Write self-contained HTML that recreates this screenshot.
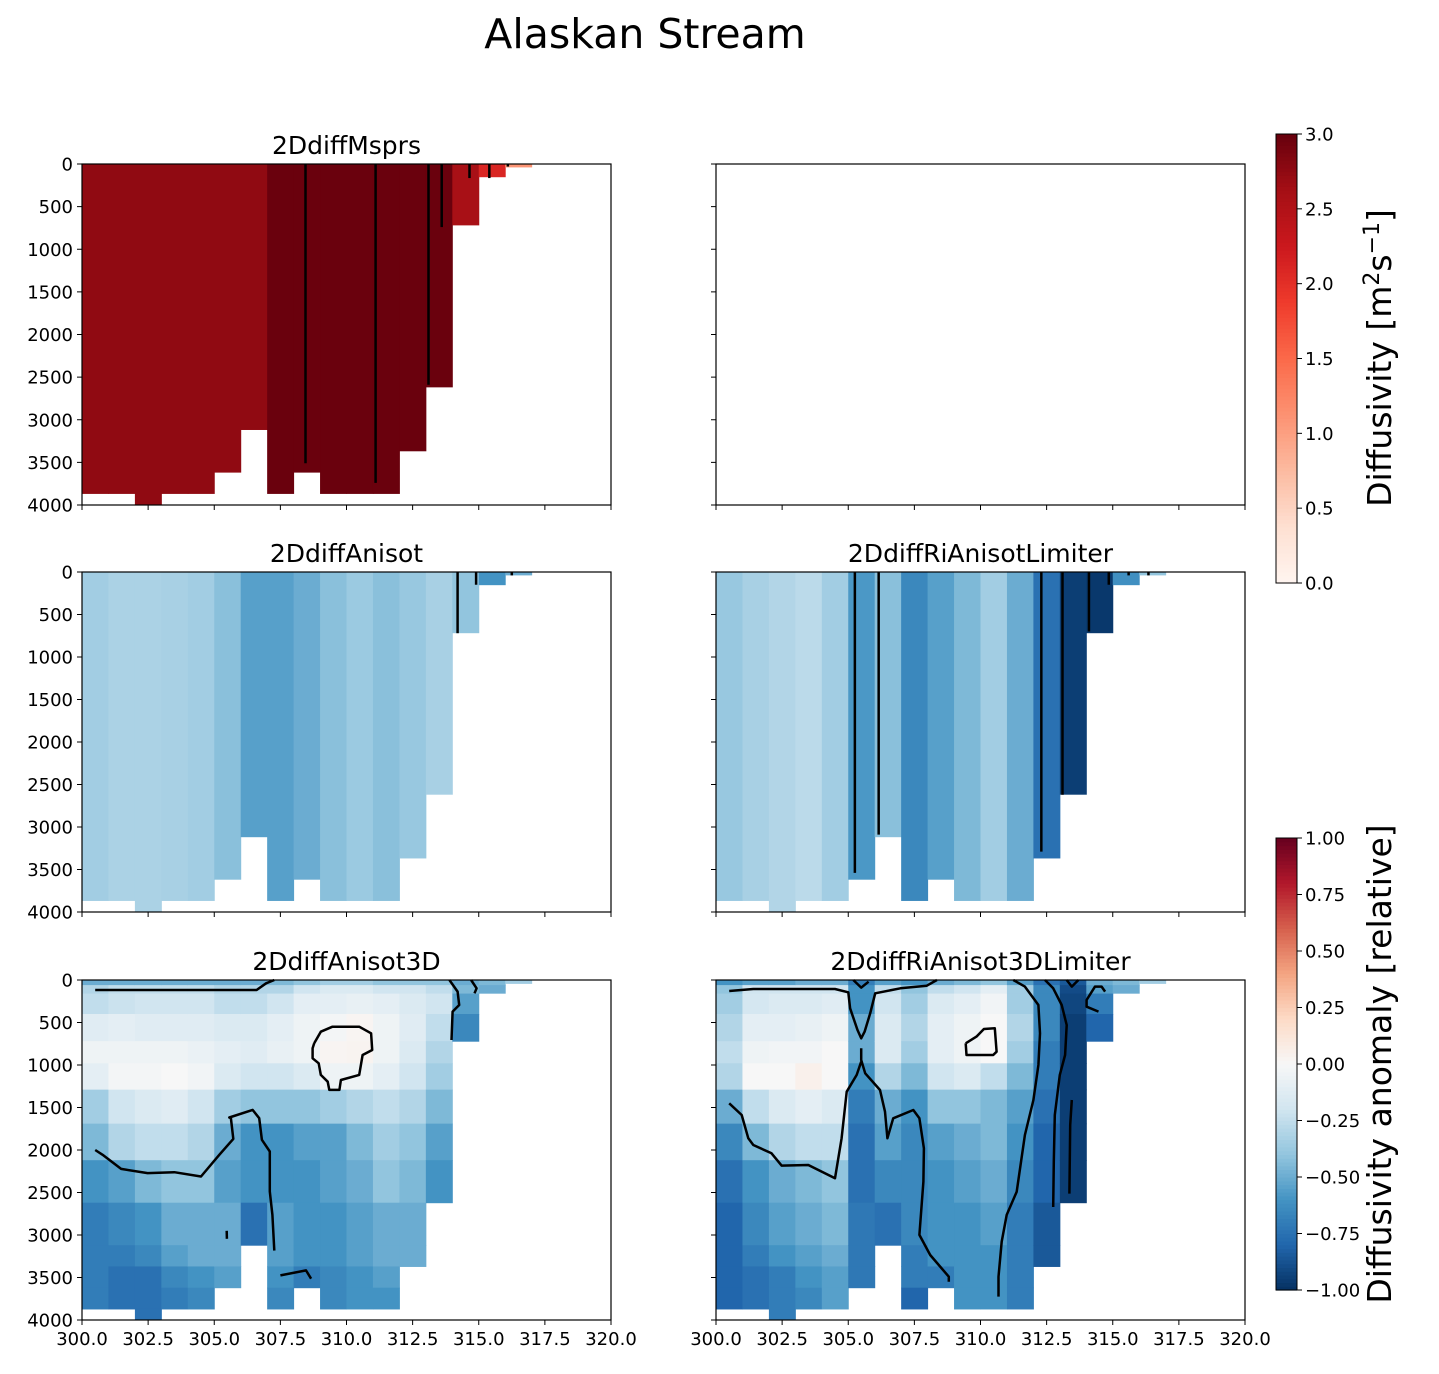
<!DOCTYPE html>
<html><head><meta charset="utf-8">
<style>
body{margin:0;background:#fff;}
svg text{font-family:"DejaVu Sans","Liberation Sans",sans-serif;fill:#000;}
</style></head>
<body>
<svg id="fig" width="1439" height="1369" viewBox="0 0 1439 1369" xmlns="http://www.w3.org/2000/svg">
<rect x="0" y="0" width="1439" height="1369" fill="#fff"/>
<text x="645" y="48" font-size="41" text-anchor="middle">Alaskan Stream</text>
<g id="plots"></g>
</svg>
<script>
// ---------- data ----------
const lonEdges = [300,301,302,303,304,305,306,307,308,309,310,311,312,313,314,315,316,317];
const colBottom = [3870,3870,4000,3870,3870,3620,3120,3870,3620,3870,3870,3870,3370,2620,720,155,40];
const levelEdges = [0,60,160,400,720,980,1290,1690,2120,2620,3120,3370,3620,3870,4000];
const xTicks = [300,302.5,305,307.5,310,312.5,315,317.5,320];
const xTickLabels = ["300.0","302.5","305.0","307.5","310.0","312.5","315.0","317.5","320.0"];
const yTicks = [0,500,1000,1500,2000,2500,3000,3500,4000];
const diffMsprs = [2.75,2.75,2.75,2.75,2.75,2.75,2.75,2.98,2.98,2.98,2.98,2.98,2.98,2.98,2.6,2.1,1.1];
const anisot = [-0.35,-0.32,-0.32,-0.33,-0.35,-0.42,-0.55,-0.55,-0.5,-0.42,-0.37,-0.42,-0.38,-0.33,-0.4,-0.6,-0.5];
const riAnisot = [-0.38,-0.33,-0.3,-0.27,-0.35,-0.58,-0.42,-0.65,-0.55,-0.45,-0.35,-0.5,-0.75,-0.95,-0.97,-0.62,-0.4];
const anisot3D = [
[-0.5,-0.3,-0.25,-0.12,-0.05,-0.1,-0.35,-0.45,-0.6,-0.7,-0.7,-0.7,-0.7],
[-0.5,-0.25,-0.22,-0.1,-0.05,-0.02,-0.2,-0.3,-0.55,-0.65,-0.7,-0.75,-0.75],
[-0.5,-0.25,-0.2,-0.12,-0.05,-0.02,-0.15,-0.25,-0.45,-0.6,-0.65,-0.75,-0.75,-0.75],
[-0.5,-0.25,-0.2,-0.12,-0.05,0.0,-0.12,-0.25,-0.4,-0.5,-0.55,-0.65,-0.7],
[-0.5,-0.25,-0.2,-0.12,-0.07,-0.03,-0.2,-0.3,-0.4,-0.5,-0.5,-0.6,-0.65],
[-0.5,-0.3,-0.25,-0.15,-0.1,-0.15,-0.35,-0.5,-0.55,-0.5,-0.5,-0.55],
[-0.5,-0.3,-0.25,-0.15,-0.12,-0.2,-0.4,-0.6,-0.6,-0.75],
[-0.45,-0.3,-0.2,-0.1,-0.08,-0.2,-0.4,-0.6,-0.6,-0.55,-0.55,-0.6,-0.65],
[-0.4,-0.2,-0.1,-0.05,-0.05,-0.15,-0.4,-0.55,-0.6,-0.6,-0.6,-0.7],
[-0.35,-0.15,-0.1,-0.02,0.02,-0.05,-0.35,-0.55,-0.55,-0.6,-0.6,-0.65,-0.65],
[-0.35,-0.15,-0.08,0.02,0.03,-0.05,-0.3,-0.45,-0.5,-0.55,-0.55,-0.6,-0.6],
[-0.4,-0.2,-0.1,-0.05,-0.05,-0.1,-0.25,-0.35,-0.4,-0.5,-0.5,-0.55,-0.6],
[-0.4,-0.2,-0.15,-0.12,-0.15,-0.2,-0.3,-0.4,-0.45,-0.5,-0.5],
[-0.4,-0.25,-0.2,-0.25,-0.3,-0.35,-0.45,-0.55,-0.6],
[-0.5,-0.45,-0.55,-0.65],
[-0.45,-0.5],
[-0.35]];
const riAnisot3D = [
[-0.6,-0.4,-0.35,-0.3,-0.25,-0.3,-0.5,-0.65,-0.75,-0.8,-0.8,-0.8,-0.8],
[-0.55,-0.2,-0.18,-0.1,-0.05,0.0,-0.25,-0.45,-0.6,-0.65,-0.7,-0.75,-0.75],
[-0.55,-0.2,-0.15,-0.1,-0.03,0.0,-0.15,-0.3,-0.5,-0.55,-0.6,-0.7,-0.7,-0.7],
[-0.5,-0.2,-0.15,-0.08,-0.03,0.05,-0.1,-0.25,-0.45,-0.5,-0.55,-0.6,-0.65],
[-0.5,-0.2,-0.12,-0.05,0.0,0.0,-0.15,-0.25,-0.4,-0.45,-0.5,-0.55,-0.55],
[-0.7,-0.6,-0.6,-0.5,-0.5,-0.6,-0.7,-0.75,-0.75,-0.72,-0.72,-0.72],
[-0.55,-0.25,-0.2,-0.15,-0.15,-0.3,-0.5,-0.55,-0.65,-0.75],
[-0.6,-0.4,-0.35,-0.3,-0.35,-0.45,-0.6,-0.65,-0.65,-0.65,-0.7,-0.7,-0.8],
[-0.5,-0.25,-0.15,-0.1,-0.1,-0.2,-0.4,-0.55,-0.6,-0.6,-0.6,-0.7],
[-0.45,-0.2,-0.1,-0.05,-0.05,-0.15,-0.4,-0.5,-0.55,-0.6,-0.6,-0.6,-0.6],
[-0.4,-0.1,-0.03,0.0,0.0,-0.25,-0.45,-0.45,-0.5,-0.55,-0.6,-0.6,-0.6],
[-0.55,-0.35,-0.35,-0.3,-0.35,-0.45,-0.55,-0.6,-0.65,-0.7,-0.7,-0.7,-0.7],
[-0.75,-0.65,-0.65,-0.65,-0.7,-0.7,-0.75,-0.8,-0.8,-0.85,-0.85],
[-0.85,-0.9,-0.92,-0.95,-0.95,-0.95,-0.95,-0.95,-0.95],
[-0.5,-0.55,-0.7,-0.8],
[-0.45,-0.5],
[-0.35]];
// vertical contour segments: [lon, bottom depth]
const contMsprs = [[308.45,3510],[311.1,3740],[313.1,2590],[313.6,740],[314.65,165],[315.4,165],[316.1,30]];
const contAnisot = [[314.2,720],[314.9,150],[316.25,40]];
const contRiAnisot = [[305.25,3540],[306.15,3090],[312.3,3290],[313.1,2620],[314.1,700],[314.85,150],[315.6,40],[316.35,40]];
// contour polylines for 3D panels, in [lon, depth] pairs
const cont3DLeft = [
[[300.5,118],[306.6,118],[306.96,39],[307.27,0]],
[[308.78,745],[309.03,608],[309.47,549],[310.48,549],[310.93,627],[310.97,823],[310.61,882],[310.48,1117],[309.79,1176],[309.73,1293],[309.35,1293],[309.29,1196],[309.03,1117],[308.95,980],[308.72,921],[308.72,804],[308.78,745]],
[[313.89,0],[314.2,137],[314.26,294],[314.01,372],[313.97,706]],
[[314.71,0],[314.92,98],[314.84,157]],
[[300.5,2000],[300.78,2057],[301.48,2222],[302.48,2272],[303.49,2261],[304.5,2312],[305.19,2057],[305.72,1869],[305.63,1626],[305.57,1618],[306.45,1528],[306.7,1626],[306.8,1880],[307.1,2018],[307.1,2488],[307.2,2762],[307.27,3184]],
[[305.47,2950],[305.48,3045]],
[[307.5,3475],[308.47,3416],[308.66,3514]]];
const cont3DRight = [
[[300.5,129],[301.41,106],[304.5,106],[305.0,145],[305.07,333],[305.35,588],[305.49,686],[305.62,608],[305.83,392],[306.02,157],[306.97,98],[307.97,67],[308.35,0]],
[[305.19,0],[305.49,90],[305.77,20]],
[[305.49,803],[305.49,941],[305.64,1098],[306.2,1294],[306.39,1549],[306.48,1862],[306.7,1627],[307.46,1529],[307.69,1627],[307.86,1980],[307.84,2372],[307.69,2999],[308.1,3235],[308.8,3490],[308.8,3549]],
[[305.49,961],[305.32,1117],[304.94,1314],[304.75,1862],[304.5,2333],[303.49,2176],[302.48,2184],[302.1,2039],[301.41,1941],[301.22,1862],[300.97,1588],[300.5,1451]],
[[309.44,745],[309.85,666],[310.13,576],[310.54,568],[310.61,843],[310.48,882],[309.47,882],[309.44,745]],
[[311.24,0],[311.68,78],[312.19,294],[312.25,627],[312.19,1000],[312.0,1412],[311.68,1823],[311.37,2490],[310.99,2764],[310.8,3078],[310.68,3490],[310.68,3725]],
[[312.44,0],[312.75,98],[313.07,294],[313.26,529],[313.2,882],[313.0,1117],[312.81,1588],[312.77,2137],[312.75,2670]],
[[313.26,0],[313.45,78],[313.7,0]],
[[313.45,1412],[313.39,1706],[313.36,2513]],
[[314.46,372],[314.01,314],[314.01,235],[314.33,78],[314.58,78],[314.71,137]]];
// colorbar ticks
const cbTopTicks = [0,0.5,1,1.5,2,2.5,3];
const cbTopLabels = ["0.0","0.5","1.0","1.5","2.0","2.5","3.0"];
const cbBotTicks = [-1,-0.75,-0.5,-0.25,0,0.25,0.5,0.75,1];
const cbBotLabels = ["\u22121.00","\u22120.75","\u22120.50","\u22120.25","0.00","0.25","0.50","0.75","1.00"];

// ---------- colormaps ----------
const RdBuR = ["#053061","#2166ac","#4393c3","#92c5de","#d1e5f0","#f7f7f7","#fddbc7","#f4a582","#d6604d","#b2182b","#67001f"];
const RedsC = ["#fff5f0","#fee0d2","#fcbba1","#fc9272","#fb6a4a","#ef3b2c","#cb181d","#a50f15","#67000d"];
function hx(c){return [parseInt(c.slice(1,3),16),parseInt(c.slice(3,5),16),parseInt(c.slice(5,7),16)];}
function cmap(list,t){t=Math.max(0,Math.min(1,t));const n=list.length-1;const i=Math.min(n-1,Math.floor(t*n));const f=t*n-i;const a=hx(list[i]),b=hx(list[i+1]);
return "rgb("+a.map((v,k)=>Math.round(v+(b[k]-v)*f)).join(",")+")";}
const anomColor=v=>cmap(RdBuR,(v+1)/2);
const redColor=v=>cmap(RedsC,v/3);

// ---------- layout ----------
const NS="http://www.w3.org/2000/svg";
const root=document.getElementById('plots');
function el(tag,attrs,parent){const e=document.createElementNS(NS,tag);for(const k in attrs)e.setAttribute(k,attrs[k]);(parent||root).appendChild(e);return e;}
const cols=[{x0:82,x1:611},{x0:716,x1:1245}];
const rows=[{y0:164,y1:505},{y0:572,y1:912},{y0:980,y1:1320}];
function axes(c,r){const C=cols[c],R=rows[r];
return {xs:v=>C.x0+(v-300)/20*(C.x1-C.x0), ys:d=>R.y0+d/4000*(R.y1-R.y0), C,R};}

function drawColumns(ax,g,vals,colorFn,name){
  vals.forEach((v,i)=>{
    const x0=ax.xs(lonEdges[i]),x1=ax.xs(lonEdges[i+1]);
    const r=el('rect',{x:x0,y:ax.ys(0),width:x1-x0+0.5,height:ax.ys(colBottom[i])-ax.ys(0),fill:colorFn(v)},g);
    
    
  });
}
function drawGrid(ax,g,grid,name){
  grid.forEach((colv,i)=>{
    const x0=ax.xs(lonEdges[i]),x1=ax.xs(lonEdges[i+1]);
    colv.forEach((v,j)=>{
      const top=levelEdges[j];const bot=Math.min(levelEdges[j+1],colBottom[i]);
      if(bot<=top)return;
      const r=el('rect',{x:x0,y:ax.ys(top),width:x1-x0+0.5,height:ax.ys(bot)-ax.ys(top)+0.5,fill:anomColor(v)},g);
      
      
    });
  });
}
function drawVLines(ax,g,segs,name){
  segs.forEach(s=>{
    const l=el('line',{x1:ax.xs(s[0]),x2:ax.xs(s[0]),y1:ax.ys(0),y2:ax.ys(s[1]),stroke:'#000','stroke-width':2.5},g);
    
    
  });
}
function drawPolys(ax,g,polys,name){
  polys.forEach(p=>{
    const d=p.map((q,k)=>(k?'L':'M')+ax.xs(q[0]).toFixed(1)+','+ax.ys(q[1]).toFixed(1)).join('');
    const pa=el('path',{d:d,fill:'none',stroke:'#000','stroke-width':2.5,'stroke-linejoin':'round'},g);
    
    
  });
}
function frame(ax,g,c,r,title){
  const C=ax.C,R=ax.R;
  xTicks.forEach((t,i)=>{
    el('line',{x1:ax.xs(t),x2:ax.xs(t),y1:R.y1,y2:R.y1+5,stroke:'#000','stroke-width':1},g);
    if(r===2){const tx=el('text',{x:ax.xs(t),y:R.y1+25,'font-size':18,'text-anchor':'middle'},g);tx.textContent=xTickLabels[i];
      
      }
  });
  yTicks.forEach(t=>{
    el('line',{x1:C.x0-5,x2:C.x0,y1:ax.ys(t),y2:ax.ys(t),stroke:'#000','stroke-width':1},g);
    if(c===0){const tx=el('text',{x:C.x0-9,y:ax.ys(t)+6.5,'font-size':18,'text-anchor':'end'},g);tx.textContent=String(t);
      
      }
  });
  el('rect',{x:C.x0,y:R.y0,width:C.x1-C.x0,height:R.y1-R.y0,fill:'none',stroke:'#000','stroke-width':1.2},g);
  if(title){const tt=el('text',{x:(C.x0+C.x1)/2,y:R.y0-10,'font-size':25,'text-anchor':'middle'},g);tt.textContent=title;
    
    }
}
function panel(c,r,name,title,drawFn){
  const g=el('g',{});
  
  
  const ax=axes(c,r);
  if(drawFn)drawFn(ax,g);
  frame(ax,g,c,r,title);
}
panel(0,0,'panel-2ddiffmsprs','2DdiffMsprs',(ax,g)=>{drawColumns(ax,g,diffMsprs,redColor,'msprs');drawVLines(ax,g,contMsprs,'msprs');});
panel(1,0,'panel-empty','',null);
panel(0,1,'panel-2ddiffanisot','2DdiffAnisot',(ax,g)=>{drawColumns(ax,g,anisot,anomColor,'anisot');drawVLines(ax,g,contAnisot,'anisot');});
panel(1,1,'panel-2ddiffrianisotlimiter','2DdiffRiAnisotLimiter',(ax,g)=>{drawColumns(ax,g,riAnisot,anomColor,'rianisot');drawVLines(ax,g,contRiAnisot,'rianisot');});
panel(0,2,'panel-2ddiffanisot3d','2DdiffAnisot3D',(ax,g)=>{drawGrid(ax,g,anisot3D,'anisot3d');drawPolys(ax,g,cont3DLeft,'anisot3d');});
panel(1,2,'panel-2ddiffrianisot3dlimiter','2DdiffRiAnisot3DLimiter',(ax,g)=>{drawGrid(ax,g,riAnisot3D,'rianisot3d');drawPolys(ax,g,cont3DRight,'rianisot3d');});

// ---------- colorbars ----------
function colorbar(name,y0,y1,vmin,vmax,fn,ticks,labels,label,labelY){
  const g=el('g',{});
  
  
  const x0=1276,w=21,N=120;
  for(let i=0;i<N;i++){
    const v=vmin+(vmax-vmin)*(i+0.5)/N;
    const yy=y1-(i+1)*(y1-y0)/N;
    el('rect',{x:x0,y:yy,width:w,height:(y1-y0)/N+0.6,fill:fn(v)},g);
  }
  el('rect',{x:x0,y:y0,width:w,height:y1-y0,fill:'none',stroke:'#000','stroke-width':1},g);
  ticks.forEach((t,i)=>{
    const yy=y1-(t-vmin)/(vmax-vmin)*(y1-y0);
    el('line',{x1:x0+w,x2:x0+w+5,y1:yy,y2:yy,stroke:'#000','stroke-width':1},g);
    const tx=el('text',{x:x0+w+8,y:yy+6.5,'font-size':18},g);tx.textContent=labels[i];
    
    
  });
  const lt=el('text',{x:0,y:0,'font-size':33,'text-anchor':'middle',transform:'translate(1391,'+labelY+') rotate(-90)'},g);
  lt.innerHTML=label;
  
  
}
colorbar('diffusivity-colorbar',134,583,0,3,redColor,cbTopTicks,cbTopLabels,'Diffusivity [m<tspan baseline-shift="super" font-size="22">2</tspan>s<tspan baseline-shift="super" font-size="22">\u22121</tspan>]',358);
colorbar('anomaly-colorbar',838,1290,-1,1,anomColor,cbBotTicks,cbBotLabels,'Diffusivity anomaly [relative]',1064);
</script>
</body></html>
